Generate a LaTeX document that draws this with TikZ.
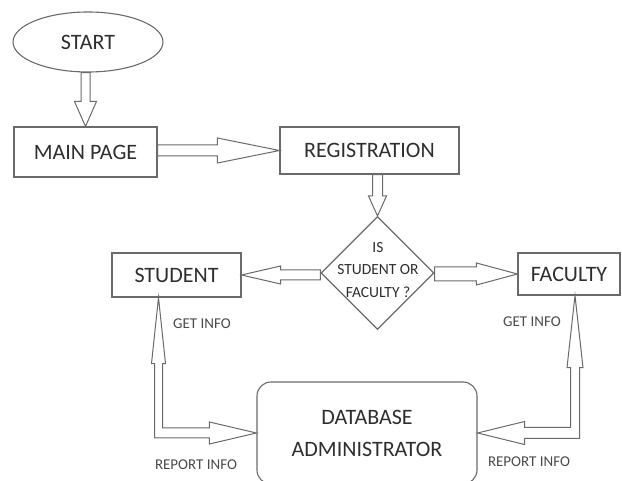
\documentclass[tikz,border=0pt]{standalone}
\usepackage{fontspec}
\setmainfont{Carlito}
\usetikzlibrary{shapes.geometric,calc}
\definecolor{linec}{HTML}{6A6A6A}
\definecolor{textc}{HTML}{2E2E2E}
\definecolor{lblc}{HTML}{4A4A4A}
\tikzset{
  box/.style={draw=linec, line width=1.1pt, rectangle, inner sep=0pt, text=textc, font=\fontsize{22}{32}\selectfont},
  blk/.style={draw=linec, line width=1pt, fill=white, line join=miter},
  lbl/.style={text=lblc, font=\fontsize{15}{16}\selectfont, inner sep=0pt},
}
% horizontal hollow block arrow: from #1 to #2, head length #3, head half #4, shaft half #5
\newcommand\hblk[5]{\draw[blk] let \p1=(#1),\p2=(#2),\n1={sign(\x2-\x1)} in
  ({\x1},{\y2+#5}) -- ({\x2-(\n1)*#3},{\y2+#5}) -- ({\x2-(\n1)*#3},{\y2+#4}) -- ({\x2},{\y2})
  -- ({\x2-(\n1)*#3},{\y2-#4}) -- ({\x2-(\n1)*#3},{\y2-#5}) -- ({\x1},{\y2-#5}) -- cycle;}
\newcommand\vblk[5]{\draw[blk] let \p1=(#1),\p2=(#2),\n1={sign(\y2-\y1)} in
  ({\x2+#5},{\y1}) -- ({\x2+#5},{\y2-(\n1)*#3}) -- ({\x2+#4},{\y2-(\n1)*#3}) -- ({\x2},{\y2})
  -- ({\x2-#4},{\y2-(\n1)*#3}) -- ({\x2-#5},{\y2-(\n1)*#3}) -- ({\x2-#5},{\y1}) -- cycle;}
\begin{document}
\begin{tikzpicture}[x=1pt,y=-1pt]
\useasboundingbox (0,0) rectangle (622,481);
\clip (0,0) rectangle (622,481);
% nodes
\node[box, ellipse, minimum width=150pt, minimum height=60pt] (start) at (88,42) {START};
\node[box, minimum width=143pt, minimum height=50pt] (main) at (85.5,152) {MAIN PAGE};
\node[box, minimum width=179pt, minimum height=47pt] (reg) at (369.5,150.5) {REGISTRATION};
\node[draw=linec, line width=1.1pt, diamond, minimum width=113pt, minimum height=113pt, inner sep=0pt] (dia) at (377.5,273) {};
\node[text=textc, align=center, font=\fontsize{15.5}{22.5}\selectfont, inner sep=0pt] (diatext) at (378,270) {IS\\STUDENT OR\\FACULTY ?};
\node[box, minimum width=129pt, minimum height=44pt] (student) at (176.5,275) {STUDENT};
\node[box, minimum width=102pt, minimum height=42pt] (faculty) at (569,274) {FACULTY};
\node[box, rounded corners=14pt, minimum width=220pt, minimum height=102pt, align=center] (db) at (367,433) {DATABASE\\ADMINISTRATOR};
% connectors
\vblk{start.south}{main.north}{25pt}{11pt}{4.5pt}
\hblk{main.east}{reg.west}{62pt}{12.5pt}{5.5pt}
\vblk{reg.south}{dia.north}{20pt}{9pt}{5pt}
\hblk{dia.west}{student.east}{39pt}{9pt}{5pt}
\hblk{dia.east}{faculty.west}{41pt}{11pt}{7pt}
\coordinate (sgi) at ($(student.south)+(-18,0)$);
\coordinate (fgi) at ($(faculty.south)+(6,0)$);
\draw[blk] let \p1=(sgi),\p2=(db.west) in
  (\x1,\y1) -- ({\x1+7pt},{\y1-66pt}) -- ({\x1+4pt},{\y1-66pt}) -- ({\x1+4pt},{\y2+5pt})
  -- ({\x2-47pt},{\y2+5pt}) -- ({\x2-47pt},{\y2+11pt}) -- (\x2,\y2) -- ({\x2-47pt},{\y2-11pt})
  -- ({\x2-47pt},{\y2-5pt}) -- ({\x1-4pt},{\y2-5pt}) -- ({\x1-4pt},{\y1-66pt}) -- ({\x1-7pt},{\y1-66pt}) -- cycle;
\draw[blk] let \p1=(fgi),\p2=(db.east) in
  (\x1,\y1) -- ({\x1-8pt},{\y1-72pt}) -- ({\x1-4.5pt},{\y1-72pt}) -- ({\x1-4.5pt},{\y2+5.5pt})
  -- ({\x2+47pt},{\y2+5.5pt}) -- ({\x2+47pt},{\y2+11.5pt}) -- (\x2,\y2) -- ({\x2+47pt},{\y2-11.5pt})
  -- ({\x2+47pt},{\y2-5.5pt}) -- ({\x1+4.5pt},{\y2-5.5pt}) -- ({\x1+4.5pt},{\y1-72pt}) -- ({\x1+8pt},{\y1-72pt}) -- cycle;
% labels
\node[lbl] (gil) at (202,324) {GET INFO};
\node[lbl] (ril) at (196,465) {REPORT INFO};
\node[lbl] (gir) at (532,322) {GET INFO};
\node[lbl] (rir) at (529,462) {REPORT INFO};
\end{tikzpicture}
\end{document}
